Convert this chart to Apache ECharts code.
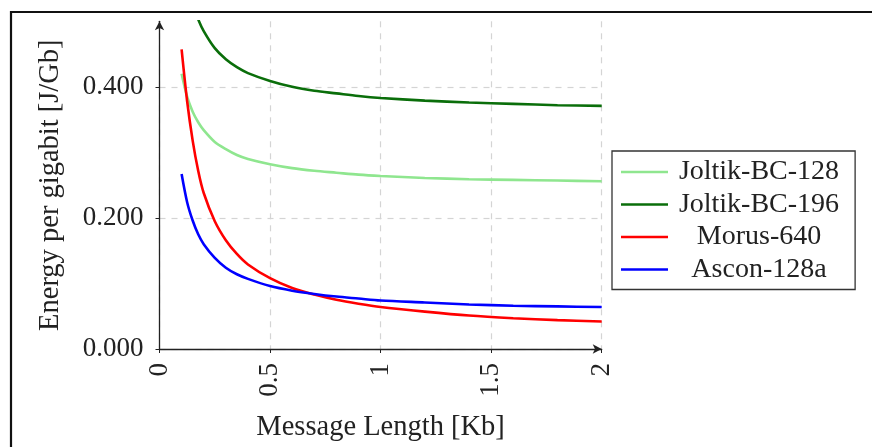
<!DOCTYPE html>
<html>
<head>
<meta charset="utf-8">
<script src="https://cdn.jsdelivr.net/npm/echarts@6/dist/echarts.min.js"></script>
<style>
html,body{margin:0;padding:0;background:#fff;}
#chart{width:872px;height:447px;}
</style>
</head>
<body>
<div id="chart"></div>
<script>
// Message length (Kb)
const msgLength = [0.1, 0.125, 0.15, 0.175, 0.2, 0.25, 0.3, 0.35, 0.4, 0.5, 0.6, 0.7, 0.8, 0.9, 1.0, 1.2, 1.4, 1.6, 1.8, 2.0];
// Energy per gigabit (J/Gb)
const joltik128 = [0.420, 0.385, 0.362, 0.346, 0.334, 0.316, 0.305, 0.296, 0.290, 0.282, 0.276, 0.272, 0.269, 0.266, 0.264, 0.261, 0.259, 0.258, 0.257, 0.256];
const joltik196 = [0.611, 0.560, 0.527, 0.503, 0.485, 0.459, 0.442, 0.430, 0.421, 0.409, 0.400, 0.394, 0.390, 0.386, 0.383, 0.379, 0.376, 0.374, 0.372, 0.371];
const morus640  = [0.457, 0.378, 0.318, 0.272, 0.238, 0.195, 0.166, 0.145, 0.129, 0.108, 0.093, 0.083, 0.075, 0.069, 0.064, 0.057, 0.051, 0.047, 0.044, 0.042];
const ascon128a = [0.267, 0.224, 0.196, 0.175, 0.160, 0.139, 0.124, 0.114, 0.107, 0.096, 0.089, 0.084, 0.080, 0.077, 0.074, 0.071, 0.068, 0.066, 0.065, 0.064];

const seriesNames = ['Joltik-BC-128', 'Joltik-BC-196', 'Morus-640', 'Ascon-128a'];
const seriesValues = [joltik128, joltik196, morus640, ascon128a];
const seriesColors = ['#8fe68f', '#0a6e0a', '#ff0000', '#0000ff'];

const FONT = '"Liberation Serif", "Times New Roman", serif';
const chart = echarts.init(document.getElementById('chart'), null, {renderer: 'canvas'});

const series = seriesNames.map((name, i) => ({
  name: name,
  type: 'line',
  data: msgLength.map((x, j) => [x, seriesValues[i][j]]),
  smooth: 0.3,
  symbol: 'none',
  clip: true,
  lineStyle: {color: seriesColors[i], width: 2.6},
  itemStyle: {color: seriesColors[i]}
}));

chart.setOption({
  animation: false,
  backgroundColor: '#fff',
  grid: {left: 159.5, right: 270.3, top: 21.3, bottom: 94.7, containLabel: false},
  xAxis: {
    type: 'value', min: 0, max: 2, interval: 0.5,
    name: 'Message Length [Kb]', nameLocation: 'middle', nameGap: 64,
    nameTextStyle: {fontFamily: FONT, fontSize: 28.5, color: '#222'},
    axisLine: {show: true, lineStyle: {color: '#222', width: 1.3}, symbol: ['none', 'arrow'], symbolSize: [7, 9]},
    axisTick: {show: true, inside: false, length: 4, lineStyle: {color: '#222'}},
    axisLabel: {rotate: 90, margin: 14, fontFamily: FONT, fontSize: 27, color: '#222',
      formatter: v => String(v)},
    splitLine: {show: true, lineStyle: {color: '#d4d4d4', type: [6, 6], width: 1.2}}
  },
  yAxis: {
    type: 'value', min: 0, max: 0.5, interval: 0.2,
    name: 'Energy per gigabit [J/Gb]', nameLocation: 'middle', nameGap: 94,
    nameTextStyle: {fontFamily: FONT, fontSize: 28.5, color: '#222'},
    axisLine: {show: true, lineStyle: {color: '#222', width: 1.3}, symbol: ['none', 'arrow'], symbolSize: [7, 9]},
    axisTick: {show: true, inside: false, length: 4, lineStyle: {color: '#222'}},
    axisLabel: {margin: 16, fontFamily: FONT, fontSize: 27, color: '#222', showMaxLabel: false,
      formatter: v => (Math.abs(v - 0.5) < 1e-9 ? '' : v.toFixed(3))},
    splitLine: {show: true, showMaxLine: false, lineStyle: {color: '#d4d4d4', type: [6, 6], width: 1.2}}
  },
  legend: {
    orient: 'vertical',
    left: 612, top: 151,
    backgroundColor: '#fff',
    borderColor: '#333', borderWidth: 1.3,
    padding: [7, 16, 6, 9],
    icon: 'rect',
    itemWidth: 47, itemHeight: 2.6, itemGap: 4.5,
    data: seriesNames,
    formatter: name => '{t|' + name + '}',
    textStyle: {
      fontFamily: FONT, fontSize: 28, color: '#222',
      rich: {t: {fontFamily: FONT, fontSize: 28, color: '#222', width: 172, align: 'center'}}
    }
  },
  graphic: [{
    type: 'rect', silent: true, z: 100,
    shape: {x: 11, y: 12, width: 900, height: 500},
    style: {fill: null, stroke: '#111', lineWidth: 2.2}
  }],
  series: series
});
</script>
</body>
</html>
